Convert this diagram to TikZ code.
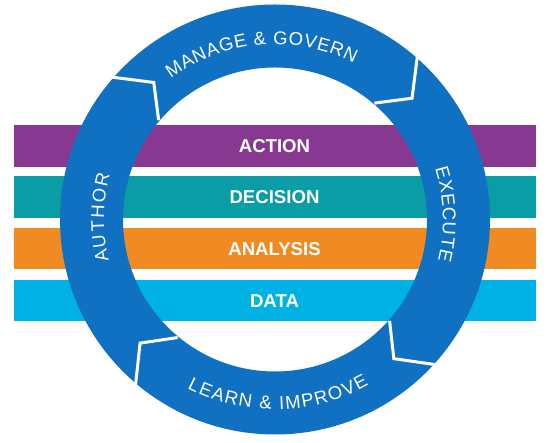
\documentclass[tikz,border=0pt]{standalone}
\usepackage{fontspec}
\setmainfont{Liberation Sans}
\usetikzlibrary{calc}

\definecolor{ringblue}{RGB}{16,112,194}
\definecolor{actionpurple}{RGB}{135,57,145}
\definecolor{decisionteal}{RGB}{10,157,166}
\definecolor{analysisorange}{RGB}{239,139,34}
\definecolor{datacyan}{RGB}{0,178,227}

\newcommand{\barfont}{\fontsize{18.6}{20}\selectfont\bfseries}
\newcommand{\ringfont}{\fontsize{18.5}{20}\selectfont}

\tikzset{
  barlabel/.style={text=white, font=\barfont},
  ringletter/.style={text=white, font=\ringfont, anchor=base, inner sep=0pt},
  joint/.style={white, line width=3pt, line join=miter}
}

% letters along the ring: name, start angle, radius, direction (1 cw, -1 ccw), gap, letter/width(em)
\newcommand{\ringword}[6]{%
  \gdef\ringpos{0}%
  \foreach \ch/\w [count=\i] in {#6} {
    \pgfmathsetmacro\lw{\w*18.5}
    \pgfmathsetmacro\ang{#2-(#4)*(\ringpos+0.5*\lw)/#3*180/pi}
    \node[ringletter, rotate=\ang-(#4)*90] (#1-\i) at ($(c)+(\ang:#3)$) {\ch};
    \pgfmathsetmacro\newpos{\ringpos+\lw+#5}
    \global\let\ringpos\newpos
  }}

\begin{document}
\begin{tikzpicture}[x=1pt,y=1pt]
\useasboundingbox (0,0) rectangle (552,443);
\coordinate (c) at (275,223.5);

% --- Layer bars ---
\foreach \y/\col/\name/\lab in {276/actionpurple/action/ACTION,225/decisionteal/decision/DECISION,173.5/analysisorange/analysis/ANALYSIS,121.5/datacyan/data/DATA} {
  \fill[\col] (14,\y) rectangle (536,\y+41.5);
  \node[barlabel] (\name) at (274.5,\y+20.75) {\lab};
}

% --- Ring ---
\fill[ringblue, even odd rule] (c) circle (215) (c) circle (152);

% --- Arrow joints ---
\foreach \a in {139.5,49.5,-41.5,230.5}
  \draw[joint] ($(c)+(\a:220)$) -- ($(c)+(\a-8:183)$) -- ($(c)+(\a:153)$);

% --- Ring labels ---
\ringword{manage}{126.5}{175}{1}{0.75}{M/.833,A/.667,N/.722,A/.667,G/.778,E/.667,~/.278,\&/.667,~/.278,G/.778,O/.778,V/.667,E/.667,R/.722,N/.722}
\ringword{execute}{17.6}{168}{1}{0.9}{E/.667,X/.667,E/.667,C/.722,U/.722,T/.611,E/.667}
\ringword{learn}{242.5}{190}{-1}{1.4}{L/.556,E/.667,A/.667,R/.722,N/.722,~/.278,\&/.667,~/.278,I/.278,M/.833,P/.667,R/.722,O/.778,V/.667,E/.667}
\ringword{author}{194}{171}{1}{1.8}{A/.667,U/.722,T/.611,H/.722,O/.778,R/.722}

\end{tikzpicture}
\end{document}
